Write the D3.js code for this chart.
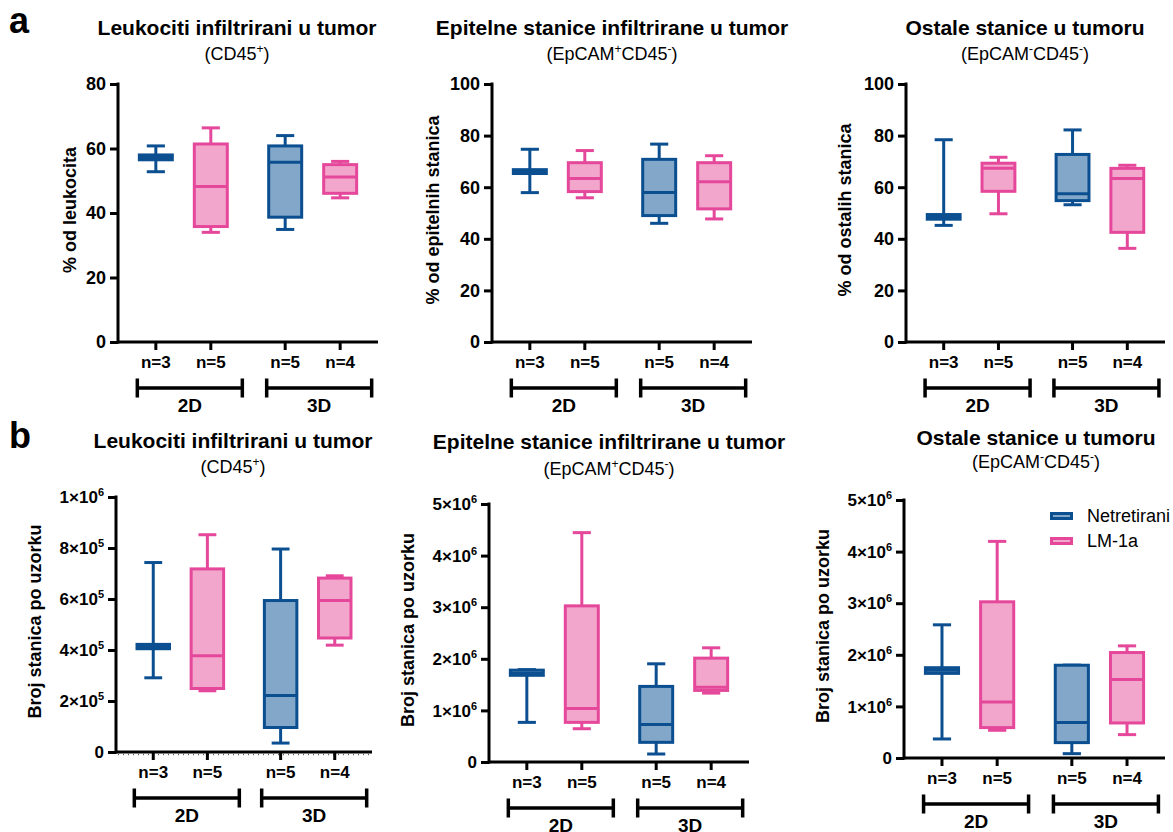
<!DOCTYPE html>
<html>
<head>
<meta charset="utf-8">
<script src="https://cdn.jsdelivr.net/npm/d3@7"></script>
<style>
  body { margin: 0; background: #fff; }
  text { font-family: "Liberation Sans", Arial, Helvetica, sans-serif; fill: #000; }
</style>
</head>
<body>
<svg id="chart" width="1173" height="832"></svg>
<script>
// ---- data ----
const groups = ["2D", "3D"];
const treatments = ["Netretirani", "LM-1a"];
const sampleSizes = ["n=3", "n=5", "n=5", "n=4"];   // 2D Netretirani, 2D LM-1a, 3D Netretirani, 3D LM-1a

// five-number summaries [min, q1, median, q3, max], same order as sampleSizes
const leukocytePct = [
  [52.8, 56.5, 57.2, 58.0, 60.8],
  [34.0, 35.8, 48.2, 61.4, 66.4],
  [34.9, 38.7, 55.7, 60.8, 64.0],
  [44.7, 46.1, 51.2, 55.0, 56.0]
];
const epithelialPct = [
  [57.9, 65.3, 66.0, 66.8, 74.7],
  [55.9, 58.3, 63.4, 69.5, 74.2],
  [46.0, 49.0, 57.9, 70.8, 76.7],
  [47.7, 51.6, 62.1, 69.5, 72.2]
];
const otherPct = [
  [45.2, 47.6, 48.5, 49.4, 78.4],
  [49.7, 58.4, 67.3, 69.3, 71.6],
  [53.2, 54.8, 57.5, 72.7, 82.2],
  [36.3, 42.5, 63.4, 67.3, 68.5]
];
const leukocyteCount = [
  [291000, 405000, 413000, 422000, 743000],
  [240000, 249000, 377000, 718000, 852000],
  [35000, 96000, 222000, 594000, 796000],
  [419000, 447000, 594000, 682000, 691000]
];
const epithelialCount = [
  [768000, 1680000, 1720000, 1780000, 1790000],
  [645000, 768000, 1039000, 3026000, 4445000],
  [155000, 381000, 729000, 1465000, 1903000],
  [1335000, 1387000, 1450000, 2013000, 2213000]
];
const otherCount = [
  [369000, 1640000, 1700000, 1750000, 2581000],
  [537000, 589000, 1087000, 3027000, 4198000],
  [84000, 298000, 686000, 1798000, 1800000],
  [453000, 679000, 1520000, 2044000, 2173000]
];

// axis ticks and their labels (^ marks a superscript character)
const pctTicks80 = [0, 20, 40, 60, 80];
const pctTicks100 = [0, 20, 40, 60, 80, 100];
const leukCountTicks = [0, 2e5, 4e5, 6e5, 8e5, 1e6];
const leukCountLabels = ["0", "2×10^5", "4×10^5", "6×10^5", "8×10^5", "1×10^6"];
const cellCountTicks = [0, 1e6, 2e6, 3e6, 4e6, 5e6];
const cellCountLabels = ["0", "1×10^6", "2×10^6", "3×10^6", "4×10^6", "5×10^6"];

const titles = ["Leukociti infiltrirani u tumor", "Epitelne stanice infiltrirane u tumor", "Ostale stanice u tumoru"];
const subtitles = ["(CD45^+)", "(EpCAM^+CD45^-)", "(EpCAM^-CD45^-)"];
const pctAxisTitles = ["% od leukocita", "% od epitelnih stanica", "% od ostalih stanica"];
const countAxisTitle = "Broj stanica po uzorku";

// ---- styling ----
const colors = {
  "Netretirani": { stroke: "#0b4f91", fill: "#82a7c8" },
  "LM-1a": { stroke: "#e5489b", fill: "#f2a6cb" }
};

const panels = [
  { row: "a", title: titles[0], sub: subtitles[0], yTitle: pctAxisTitles[0], data: leukocytePct,
    ticks: pctTicks80, labels: null, left: 118, right: 378, top: 84, bottom: 342,
    titleX: 237, titleY: 35, subY: 60, yTitleX: 70 },
  { row: "a", title: titles[1], sub: subtitles[1], yTitle: pctAxisTitles[1], data: epithelialPct,
    ticks: pctTicks100, labels: null, left: 492, right: 752, top: 84, bottom: 342,
    titleX: 612, titleY: 35, subY: 60, yTitleX: 433 },
  { row: "a", title: titles[2], sub: subtitles[2], yTitle: pctAxisTitles[2], data: otherPct,
    ticks: pctTicks100, labels: null, left: 906, right: 1165, top: 84, bottom: 342,
    titleX: 1025, titleY: 35, subY: 60, yTitleX: 845 },
  { row: "b", title: titles[0], sub: subtitles[0], yTitle: countAxisTitle, data: leukocyteCount,
    ticks: leukCountTicks, labels: leukCountLabels, left: 116, right: 372, top: 497, bottom: 752,
    titleX: 233, titleY: 448, subY: 473, yTitleX: 35, ruler: true },
  { row: "b", title: titles[1], sub: subtitles[1], yTitle: countAxisTitle, data: epithelialCount,
    ticks: cellCountTicks, labels: cellCountLabels, left: 489, right: 749, top: 504, bottom: 762,
    titleX: 609, titleY: 449, subY: 475, yTitleX: 408 },
  { row: "b", title: titles[2], sub: subtitles[2], yTitle: countAxisTitle, data: otherCount,
    ticks: cellCountTicks, labels: cellCountLabels, left: 904, right: 1165, top: 500, bottom: 758,
    titleX: 1036, titleY: 445, subY: 468, yTitleX: 823, legend: true }
];

const svg = d3.select("#chart");
const AX = 3;          // axis stroke width
const LW = 3;          // box / whisker stroke width

// text with one-character superscripts written as ^x
function richText(sel, str, supSize, shift) {
  const parts = str.split(/(\^.)/).filter(s => s.length);
  let raised = false;
  parts.forEach(p => {
    if (p[0] === "^") {
      sel.append("tspan").attr("font-size", supSize).attr("dy", -shift).text(p[1]);
      raised = true;
    } else {
      const t = sel.append("tspan").text(p);
      if (raised) { t.attr("dy", shift); raised = false; }
    }
  });
}

// panel letters
svg.append("text").attr("x", 9).attr("y", 33).attr("font-size", 36).attr("font-weight", "bold").text("a");
svg.append("text").attr("x", 9).attr("y", 448).attr("font-size", 36).attr("font-weight", "bold").text("b");

panels.forEach((p, pi) => {
  const g = svg.append("g");
  const y = d3.scaleLinear().domain([0, d3.max(p.ticks)]).range([p.bottom, p.top]);
  const xOuter = d3.scaleBand().domain(groups).range([p.left, p.right]).paddingInner(0.15).paddingOuter(0.08);
  const xInner = d3.scalePoint().domain(treatments).range([0, xOuter.bandwidth()]).padding(0.5);
  const boxW = xOuter.bandwidth() * 0.3;
  const capW = boxW * 0.55;

  // titles
  g.append("text").attr("x", p.titleX).attr("y", p.titleY).attr("text-anchor", "middle")
    .attr("font-size", 21).attr("font-weight", "bold").text(p.title);
  richText(g.append("text").attr("x", p.titleX).attr("y", p.subY).attr("text-anchor", "middle")
    .attr("font-size", 18), p.sub, 12, 7);

  // y axis
  const yAxis = d3.axisLeft(y).tickValues(p.ticks).tickSize(8).tickSizeOuter(0).tickFormat("");
  const ya = g.append("g").attr("transform", `translate(${p.left},0)`).call(yAxis);
  ya.select(".domain").attr("stroke", "#000").attr("stroke-width", AX)
    .attr("d", `M0,${p.bottom + AX / 2}V${p.top - AX / 2}`);
  ya.selectAll(".tick line").attr("stroke", "#000").attr("stroke-width", AX);

  // y tick labels
  p.ticks.forEach((v, i) => {
    const t = g.append("text").attr("x", p.left - 12).attr("y", y(v)).attr("dy", "0.36em")
      .attr("text-anchor", "end").attr("font-weight", "bold");
    if (p.labels) {
      t.attr("font-size", 17);
      richText(t, p.labels[i], 11, 7);
    } else {
      t.attr("font-size", 18).text(v);
    }
  });

  // y axis title
  g.append("text")
    .attr("transform", `translate(${p.yTitleX},${(p.top + p.bottom) / 2 - 3}) rotate(-90)`)
    .attr("text-anchor", "middle").attr("dy", "0.35em")
    .attr("font-size", 18).attr("font-weight", "bold").text(p.yTitle);

  // x axis line
  g.append("line").attr("x1", p.left).attr("x2", p.right).attr("y1", p.bottom).attr("y2", p.bottom)
    .attr("stroke", "#000").attr("stroke-width", AX);
  if (p.ruler) {
    g.append("line").attr("x1", p.left + 2).attr("x2", p.right).attr("y1", p.bottom + 2.5).attr("y2", p.bottom + 2.5)
      .attr("stroke", "#666").attr("stroke-width", 1.5).attr("stroke-dasharray", "1,4");
  }

  // boxes
  const items = [];
  groups.forEach((grp, gi) => treatments.forEach((tr, ti) => {
    const idx = gi * treatments.length + ti;
    items.push({ grp, tr, n: sampleSizes[idx], s: p.data[idx], cx: xOuter(grp) + xInner(tr) });
  }));

  items.forEach(d => {
    const c = colors[d.tr];
    const [mn, q1, md, q3, mx] = d.s;
    // category tick and sample size
    g.append("line").attr("x1", d.cx).attr("x2", d.cx).attr("y1", p.bottom).attr("y2", p.bottom + 8)
      .attr("stroke", "#000").attr("stroke-width", AX);
    g.append("text").attr("x", d.cx).attr("y", p.bottom + 26).attr("text-anchor", "middle")
      .attr("font-size", 17).attr("font-weight", "bold").text(d.n);

    // whiskers with caps
    g.append("line").attr("x1", d.cx).attr("x2", d.cx).attr("y1", y(mx)).attr("y2", y(q3))
      .attr("stroke", c.stroke).attr("stroke-width", LW);
    g.append("line").attr("x1", d.cx).attr("x2", d.cx).attr("y1", y(q1)).attr("y2", y(mn))
      .attr("stroke", c.stroke).attr("stroke-width", LW);
    [mn, mx].forEach(v => g.append("line")
      .attr("x1", d.cx - capW / 2).attr("x2", d.cx + capW / 2).attr("y1", y(v)).attr("y2", y(v))
      .attr("stroke", c.stroke).attr("stroke-width", LW));
    // box
    g.append("rect").attr("x", d.cx - boxW / 2).attr("width", boxW)
      .attr("y", y(q3)).attr("height", Math.max(0.5, y(q1) - y(q3)))
      .attr("fill", c.fill).attr("stroke", c.stroke).attr("stroke-width", LW);
    // median
    g.append("line").attr("x1", d.cx - boxW / 2).attr("x2", d.cx + boxW / 2).attr("y1", y(md)).attr("y2", y(md))
      .attr("stroke", c.stroke).attr("stroke-width", LW);
  });

  // group brackets
  groups.forEach(grp => {
    const cx = xOuter(grp) + xOuter.bandwidth() / 2 + 6.5;
    const half = 52.5;
    const by = p.bottom + 46;
    g.append("path").attr("d", `M${cx - half},${by - 9.5}V${by + 9.5}M${cx - half},${by}H${cx + half}M${cx + half},${by - 9.5}V${by + 9.5}`)
      .attr("fill", "none").attr("stroke", "#000").attr("stroke-width", 3.5);
    g.append("text").attr("x", cx).attr("y", p.bottom + 70).attr("text-anchor", "middle")
      .attr("font-size", 19).attr("font-weight", "bold").text(grp);
  });

  // legend
  if (p.legend) {
    treatments.forEach((tr, i) => {
      const ly = 516 + i * 25;
      g.append("rect").attr("x", 1051.5).attr("y", ly - 2.5).attr("width", 20).attr("height", 5)
        .attr("fill", colors[tr].fill).attr("stroke", colors[tr].stroke).attr("stroke-width", LW);
      g.append("text").attr("x", 1087).attr("y", ly).attr("dy", "0.36em")
        .attr("font-size", 18).text(tr);
    });
  }
});
</script>
</body>
</html>
